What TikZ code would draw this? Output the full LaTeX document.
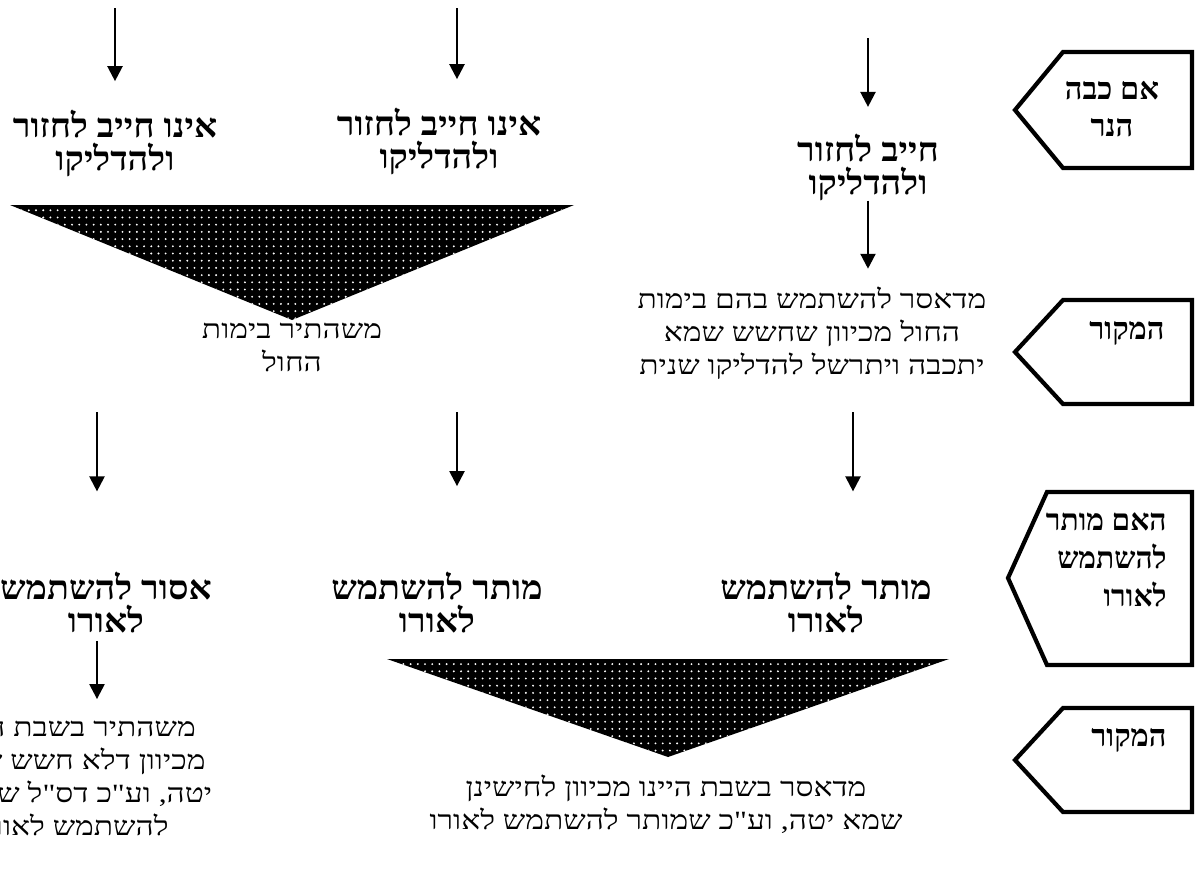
\documentclass[tikz,border=0pt]{standalone}
\usepackage{fontspec}
\newfontfamily\hebfont[Script=Hebrew]{Liberation Serif}
\newfontfamily\headfont[Script=Hebrew,FakeStretch=1.08]{Liberation Serif}
\newfontfamily\rashifont[Script=Hebrew,FakeStretch=1.2]{Liberation Serif}
\TeXXeTstate=1
\usetikzlibrary{%
    arrows.meta,%
    patterns.meta,%
    positioning
    }
\newcommand{\heb}[1]{\beginR #1\endR}
\tikzset{
  headlbl/.style={
    align=center,
    inner sep=0pt,
    font=\headfont\bfseries\fontsize{19}{18.8}\selectfont,
  },
  rashilbl/.style={
    align=center,
    inner sep=0pt,
    font=\rashifont\fontsize{15}{18.8}\selectfont,
  },
  taglbl/.style={
    inner sep=0pt,
    font=\hebfont\bfseries\fontsize{17.5}{21.5}\selectfont,
  },
  tagbox/.style={
    draw=black,
    line width=2.4pt,
    line join=miter,
  },
  funnel/.style={
    fill=black,
    postaction={pattern={Dots[radius=0.6pt,distance=4.1pt]},pattern color=white},
  },
  arrowd/.style={
    -{Triangle[length=8.5pt,width=8.5pt]},
    line width=1.3pt,
  },
}

\begin{document}
\begin{tikzpicture}[x=0.02cm,y=-0.02cm]
\clip (0,0) rectangle (1198,873);

% question and source tags on the right
\draw[tagbox] (1192,52) -- (1063,52) -- (1015,110) -- (1063,168) -- (1192,168) -- cycle;
\draw[tagbox] (1192,300) -- (1063,300) -- (1015,352) -- (1063,404) -- (1192,404) -- cycle;
\draw[tagbox] (1192,492) -- (1047,492) -- (1008,578) -- (1047,665) -- (1192,665) -- cycle;
\draw[tagbox] (1192,708) -- (1063,708) -- (1015,760) -- (1063,812) -- (1192,812) -- cycle;
\node[taglbl,align=center] 
  (qout) 
  at (1112,109)
  {\heb{אם כבה}\\\heb{הנר}};
\node[taglbl,anchor=east] 
  (srcA) 
  at (1165,333)
  {\heb{המקור}};
\node[taglbl,align=right,anchor=east,font=\hebfont\bfseries\fontsize{17}{21.5}\selectfont] 
  (quse) 
  at (1167,560)
  {\heb{האם מותר}\\\heb{להשתמש}\\\heb{לאורו}};
\node[taglbl,anchor=east] 
  (srcB) 
  at (1167,740)
  {\heb{המקור}};

% funnels
\path[funnel] (10,205) -- (574,205) -- (292,320) -- cycle;
\path[funnel] (387,659) -- (949,659) -- (668,757) -- cycle;

% first row
\coordinate (inL) at (115,8);
\coordinate (inM) at (457,8);
\coordinate (inR) at (868,38);
\node[headlbl] 
  (notreqL) 
  at (115,143)
  {\heb{אינו חייב לחזור}\\\heb{ולהדליקו}};
\node[headlbl] 
  (notreqM) 
  at (439,141)
  {\heb{אינו חייב לחזור}\\\heb{ולהדליקו}};
\node[headlbl] 
  (req) 
  at (868,167)
  {\heb{חייב לחזור}\\\heb{ולהדליקו}};
\node[rashilbl] 
  (weekday) 
  at (292,347)
  {\heb{משהתיר בימות}\\\heb{החול}};
\node[rashilbl] 
  (whyreq) 
  at (812,333)
  {\heb{מדאסר להשתמש בהם בימות}\\\heb{החול מכיוון שחשש שמא}\\\heb{יתכבה ויתרשל להדליקו שנית}};

% second row
\coordinate (midL) at (97,412);
\coordinate (midM) at (457,412);
\coordinate (midR) at (853,412);
\node[headlbl] 
  (forbid) 
  at (106,603)
  {\heb{אסור להשתמש}\\\heb{לאורו}};
\node[headlbl] 
  (allowM) 
  at (437,603)
  {\heb{מותר להשתמש}\\\heb{לאורו}};
\node[headlbl] 
  (allowR) 
  at (826,603)
  {\heb{מותר להשתמש}\\\heb{לאורו}};
\node[rashilbl] 
  (whyforbid) 
  at (74,778)
  {\heb{משהתיר  בשבת היינו}\\\heb{מכיוון דלא חשש שמא}\\\heb{יטה, וע"כ דס"ל שמותר}\\\heb{להשתמש לאורו}};
\node[rashilbl] 
  (whyallow) 
  at (666,804)
  {\heb{מדאסר  בשבת היינו מכיוון לחישינן}\\\heb{שמא יטה, וע"כ שמותר להשתמש לאורו}};

\begin{scope}[arrowd]
\draw[shorten >=16pt]
  (inL) -- (inL |- notreqL.north);
\draw[shorten >=16pt]
  (inM) -- (inM |- notreqM.north);
\draw[shorten >=15pt]
  (inR) -- (inR |- req.north);
\draw[shorten >=10pt]
  (req.south) -- (req.south |- whyreq.north);
\draw[shorten >=46pt]
  (midL) -- (midL |- forbid.north);
\draw[shorten >=49pt]
  (midM) -- (midM |- allowM.north);
\draw[shorten >=46pt]
  (midR) -- (midR |- allowR.north);
\draw[shorten <=4pt,shorten >=12pt]
  (midL |- forbid.south) -- (midL |- whyforbid.north);
\end{scope}
\end{tikzpicture}
\end{document}
